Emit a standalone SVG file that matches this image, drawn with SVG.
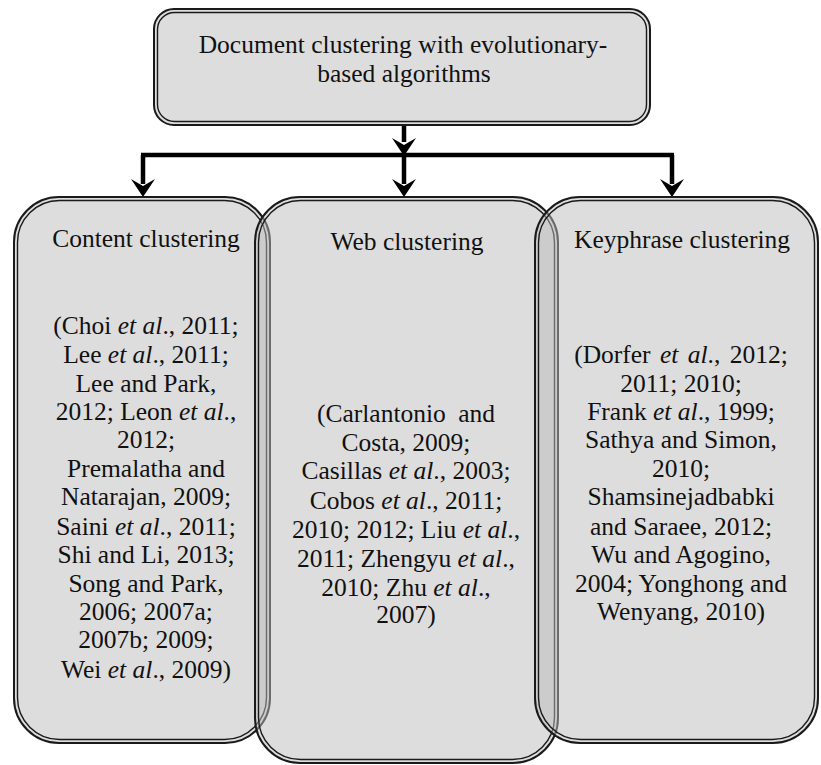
<svg xmlns="http://www.w3.org/2000/svg" width="821" height="765" viewBox="0 0 821 765">
<style>
  .box { fill: #bcbcbc; fill-opacity: 0.5; stroke: #1a1a1a; stroke-width: 2; }
  .inner { fill: none; stroke: #1a1a1a; stroke-width: 1.4; }
  .conn { stroke: #000; stroke-width: 4.5; fill: none; }
</style>

<g id="connectors">
  <path class="conn" d="M404,125 V142"/>
  <path d="M404,156 L392,138 L404,145 L416,138 Z" fill="#000"/>
  <path class="conn" d="M141,155 H674"/>
  <path class="conn" d="M143,155 V184"/>
  <path d="M143,197 L131,179 L143,186 L155,179 Z" fill="#000"/>
  <path class="conn" d="M404,155 V184"/>
  <path d="M404,197 L392,179 L404,186 L416,179 Z" fill="#000"/>
  <path class="conn" d="M672,155 V184"/>
  <path d="M672,197 L660,179 L672,186 L684,179 Z" fill="#000"/>
</g>

<g id="top">
  <rect class="box" x="154" y="9" width="496" height="116" rx="20"/>
  <rect class="inner" x="157.5" y="12.5" width="489" height="109" rx="17"/>
  <text font-family="Liberation Serif" font-size="25.5" fill="#111" text-anchor="middle" x="403" y="53">Document clustering with evolutionary-</text>
  <text font-family="Liberation Serif" font-size="25.5" fill="#111" text-anchor="middle" x="404" y="82">based algorithms</text>
</g>

<g id="content">
  <rect class="box" x="14" y="197" width="256" height="546" rx="45"/>
  <rect class="inner" x="17.5" y="200.5" width="249" height="539" rx="42"/>
  <text font-family="Liberation Serif" font-size="25.5" fill="#111" text-anchor="middle" x="146" y="247">Content clustering</text>
  <text font-family="Liberation Serif" font-size="25.5" fill="#111" text-anchor="middle" x="146" y="334">(Choi <tspan font-style="italic">et al</tspan>., 2011;</text>
  <text font-family="Liberation Serif" font-size="25.5" fill="#111" text-anchor="middle" x="146" y="363">Lee <tspan font-style="italic">et al</tspan>., 2011;</text>
  <text font-family="Liberation Serif" font-size="25.5" fill="#111" text-anchor="middle" x="146" y="392">Lee and Park,</text>
  <text font-family="Liberation Serif" font-size="25.5" fill="#111" text-anchor="middle" x="146" y="420">2012; Leon <tspan font-style="italic">et al</tspan>.,</text>
  <text font-family="Liberation Serif" font-size="25.5" fill="#111" text-anchor="middle" x="146" y="448">2012;</text>
  <text font-family="Liberation Serif" font-size="25.5" fill="#111" text-anchor="middle" x="146" y="477">Premalatha and</text>
  <text font-family="Liberation Serif" font-size="25.5" fill="#111" text-anchor="middle" x="146" y="505">Natarajan, 2009;</text>
  <text font-family="Liberation Serif" font-size="25.5" fill="#111" text-anchor="middle" x="146" y="535">Saini <tspan font-style="italic">et al</tspan>., 2011;</text>
  <text font-family="Liberation Serif" font-size="25.5" fill="#111" text-anchor="middle" x="146" y="563">Shi and Li, 2013;</text>
  <text font-family="Liberation Serif" font-size="25.5" fill="#111" text-anchor="middle" x="146" y="592">Song and Park,</text>
  <text font-family="Liberation Serif" font-size="25.5" fill="#111" text-anchor="middle" x="146" y="620">2006; 2007a;</text>
  <text font-family="Liberation Serif" font-size="25.5" fill="#111" text-anchor="middle" x="146" y="648">2007b; 2009;</text>
  <text font-family="Liberation Serif" font-size="25.5" fill="#111" text-anchor="middle" x="146" y="678">Wei <tspan font-style="italic">et al</tspan>., 2009)</text>
</g>

<g id="web">
  <rect class="box" x="255" y="197" width="303" height="566" rx="45"/>
  <rect class="inner" x="258.5" y="200.5" width="296" height="559" rx="42"/>
  <text font-family="Liberation Serif" font-size="25.5" fill="#111" text-anchor="middle" x="407" y="250">Web clustering</text>
  <text font-family="Liberation Serif" font-size="25.5" fill="#111" text-anchor="middle" x="406" y="422" word-spacing="6">(Carlantonio and</text>
  <text font-family="Liberation Serif" font-size="25.5" fill="#111" text-anchor="middle" x="406" y="451">Costa, 2009;</text>
  <text font-family="Liberation Serif" font-size="25.5" fill="#111" text-anchor="middle" x="406" y="479">Casillas <tspan font-style="italic">et al</tspan>., 2003;</text>
  <text font-family="Liberation Serif" font-size="25.5" fill="#111" text-anchor="middle" x="406" y="509">Cobos <tspan font-style="italic">et al</tspan>., 2011;</text>
  <text font-family="Liberation Serif" font-size="25.5" fill="#111" text-anchor="middle" x="406" y="538">2010; 2012; Liu <tspan font-style="italic">et al</tspan>.,</text>
  <text font-family="Liberation Serif" font-size="25.5" fill="#111" text-anchor="middle" x="406" y="567">2011; Zhengyu <tspan font-style="italic">et al</tspan>.,</text>
  <text font-family="Liberation Serif" font-size="25.5" fill="#111" text-anchor="middle" x="406" y="596">2010; Zhu <tspan font-style="italic">et al</tspan>.,</text>
  <text font-family="Liberation Serif" font-size="25.5" fill="#111" text-anchor="middle" x="406" y="623">2007)</text>
</g>

<g id="keyphrase">
  <rect class="box" x="535" y="197" width="283" height="546" rx="45"/>
  <rect class="inner" x="538.5" y="200.5" width="276" height="539" rx="42"/>
  <text font-family="Liberation Serif" font-size="25.5" fill="#111" text-anchor="middle" x="682" y="248">Keyphrase clustering</text>
  <text font-family="Liberation Serif" font-size="25.5" fill="#111" text-anchor="middle" x="681" y="363" word-spacing="3">(Dorfer <tspan font-style="italic">et al</tspan>., 2012;</text>
  <text font-family="Liberation Serif" font-size="25.5" fill="#111" text-anchor="middle" x="681" y="392">2011; 2010;</text>
  <text font-family="Liberation Serif" font-size="25.5" fill="#111" text-anchor="middle" x="681" y="420">Frank <tspan font-style="italic">et al</tspan>., 1999;</text>
  <text font-family="Liberation Serif" font-size="25.5" fill="#111" text-anchor="middle" x="681" y="448">Sathya and Simon,</text>
  <text font-family="Liberation Serif" font-size="25.5" fill="#111" text-anchor="middle" x="681" y="477">2010;</text>
  <text font-family="Liberation Serif" font-size="25.5" fill="#111" text-anchor="middle" x="681" y="505">Shamsinejadbabki</text>
  <text font-family="Liberation Serif" font-size="25.5" fill="#111" text-anchor="middle" x="681" y="535">and Saraee, 2012;</text>
  <text font-family="Liberation Serif" font-size="25.5" fill="#111" text-anchor="middle" x="681" y="563">Wu and Agogino,</text>
  <text font-family="Liberation Serif" font-size="25.5" fill="#111" text-anchor="middle" x="681" y="592">2004; Yonghong and</text>
  <text font-family="Liberation Serif" font-size="25.5" fill="#111" text-anchor="middle" x="681" y="620">Wenyang, 2010)</text>
</g>
</svg>
